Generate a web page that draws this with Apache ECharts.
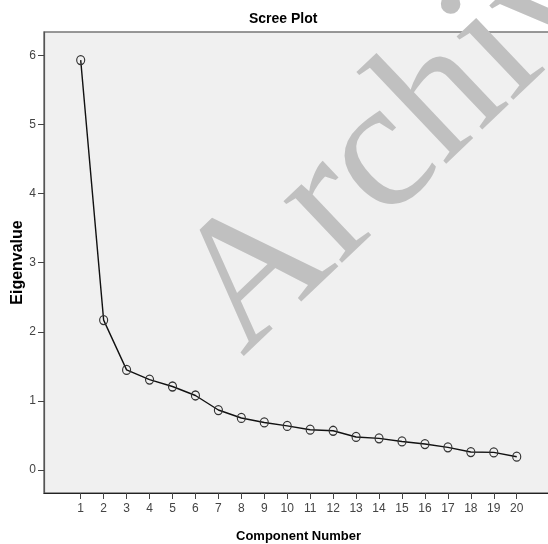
<!DOCTYPE html>
<html>
<head>
<meta charset="utf-8">
<script src="https://cdn.jsdelivr.net/npm/echarts@6/dist/echarts.min.js"></script>
<style>html,body{margin:0;padding:0;background:#fff}#c{width:548px;height:544px}</style>
</head>
<body>
<div id="c"></div>
<script>
const components = [1,2,3,4,5,6,7,8,9,10,11,12,13,14,15,16,17,18,19,20];
const eigenvalues = [5.93,2.17,1.45,1.31,1.21,1.08,0.87,0.755,0.69,0.64,0.585,0.57,0.48,0.46,0.415,0.378,0.33,0.262,0.257,0.195];
const yTicks = [0,1,2,3,4,5,6];
const chartTitle = 'Scree Plot';
const xName = 'Component Number';
const yName = 'Eigenvalue';
const watermark = 'Archive';

const chart = echarts.init(document.getElementById('c'), null, {renderer:'canvas'});
const labelFont = {fontFamily:'"Liberation Sans Narrow","Liberation Sans",Arial,sans-serif', fontSize:12, color:'#444'};
chart.setOption({
  animation:false,
  backgroundColor:'#fff',
  title:{text:chartTitle, left:244, top:7, textStyle:{fontFamily:'"Liberation Sans",Arial,sans-serif', fontSize:14, fontWeight:'bold', color:'#000'}},
  grid:{left:44, right:-5, top:32, bottom:51, containLabel:false, outerBoundsMode:'none', show:true, backgroundColor:'#f0f0f0', borderColor:'#777', borderWidth:1.5},
  graphic:[{
    type:'text', x:209, y:322, rotation:0.76, z:1, silent:true,
    style:{text:watermark, font:'normal 185px "Liberation Serif","Times New Roman",serif', fill:'#c0c0c0', align:'left', verticalAlign:'middle'}
  }],
  xAxis:{
    type:'value', min:-0.599, max:21.58,
    name:xName, nameLocation:'middle', nameGap:37, nameMoveOverlap:false,
    nameTextStyle:{fontFamily:'"Liberation Sans",Arial,sans-serif', fontSize:13, fontWeight:'bold', color:'#000'},
    axisLine:{show:true, onZero:false, lineStyle:{color:'#222', width:1.2}},
    axisTick:{show:true, length:6, customValues:components, lineStyle:{color:'#444'}},
    axisLabel:{customValues:components, margin:10, ...labelFont},
    splitLine:{show:false}
  },
  yAxis:{
    type:'value', min:-0.33, max:6.336,
    name:yName, nameLocation:'middle', nameGap:18, nameMoveOverlap:false,
    nameTextStyle:{fontFamily:'"Liberation Sans",Arial,sans-serif', fontSize:16, fontWeight:'bold', color:'#000'},
    axisLine:{show:true, onZero:false, lineStyle:{color:'#555', width:1.2}},
    axisTick:{show:true, length:6, customValues:yTicks, lineStyle:{color:'#444'}},
    axisLabel:{customValues:yTicks, margin:8, ...labelFont},
    splitLine:{show:false}
  },
  series:[{
    type:'line', z:5,
    data:components.map((c,i)=>[c, eigenvalues[i]]),
    symbol:'circle', symbolSize:[8,9], showSymbol:true,
    lineStyle:{color:'#111', width:1.4},
    itemStyle:{color:'rgba(0,0,0,0)', borderColor:'#333', borderWidth:1.2}
  }]
});
</script>
</body>
</html>
